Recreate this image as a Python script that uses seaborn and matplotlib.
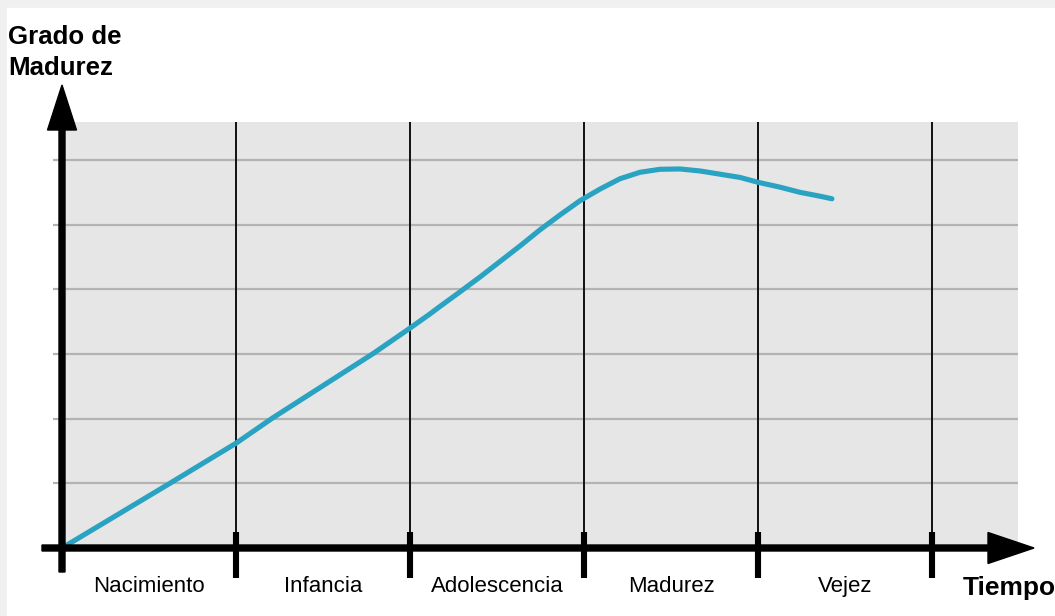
import pandas as pd
import seaborn as sns
import matplotlib.pyplot as plt
from matplotlib.patches import Rectangle, FancyArrow

# life stages along the time axis
stages = ['Nacimiento', 'Infancia', 'Adolescencia', 'Madurez', 'Vejez']

# maturity curve (x in stage units, y in grid units)
tiempo = [0.0, 0.62, 1.0, 1.21, 1.79, 2.0, 2.115, 2.172, 2.287, 2.402, 2.517,
          2.632, 2.747, 2.862, 2.977, 3.092, 3.207, 3.322, 3.437, 3.552,
          3.667, 3.782, 3.897, 4.0, 4.126, 4.241, 4.356, 4.425]
madurez = [0.0, 1.0, 1.62, 2.01, 3.01, 3.40, 3.62, 3.735, 3.96, 4.19, 4.43,
           4.67, 4.92, 5.15, 5.37, 5.55, 5.71, 5.81, 5.856, 5.861,
           5.83, 5.78, 5.73, 5.655, 5.58, 5.50, 5.44, 5.40]

grid_levels = [1, 2, 3, 4, 5, 6]

df = pd.DataFrame({'tiempo': tiempo, 'madurez': madurez})

sns.set_style('white')
plt.rcParams['font.family'] = ['Liberation Sans', 'DejaVu Sans']
plt.rcParams['text.color'] = 'black'

# pixel layout of the original drawing
X0, Y0 = 62, 548          # origin in pixels
SX, SY = 174, 64.67       # pixels per stage / per grid step


def dx(p):
    return (p - X0) / SX


def dy(p):
    return (Y0 - p) / SY


fig = plt.figure(figsize=(10.55, 6.16), dpi=100, facecolor='#f0f0f0')
fig.patches.append(Rectangle((7 / 1055, 0), 1, 1 - 8 / 616,
                             transform=fig.transFigure, color='white', zorder=-5))
ax = fig.add_axes([0, 0, 1, 1])
ax.set_facecolor('none')
ax.set_xlim(dx(0), dx(1055))
ax.set_ylim(dy(616), dy(0))
ax.axis('off')

# grey plotting band and horizontal grid
ax.add_patch(Rectangle((0, 0), dx(1018), dy(122), color='#e6e6e6', zorder=1, lw=0))
ax.hlines(grid_levels, dx(53), dx(1018), color='#b3b3b3', lw=1.6, zorder=2)

# stage dividers
bounds = list(range(1, len(stages) + 1))
ax.vlines(bounds, 0, dy(122), color='#111111', lw=1.4, zorder=3)
ax.vlines(bounds, dy(578), dy(532), color='black', lw=4.4, zorder=6)

sns.lineplot(data=df, x='tiempo', y='madurez', sort=False, color='#2aa3c2',
             lw=3.7, ax=ax, zorder=5, solid_capstyle='round',
             solid_joinstyle='round')
ax.axis('off')

# axes arrows
ax.add_patch(FancyArrow(dx(42), 0, dx(1034) - dx(42), 0, width=6 / SY,
                        head_width=31 / SY, head_length=46 / SX,
                        length_includes_head=True, color='black', zorder=7))
ax.add_patch(FancyArrow(0, dy(572), 0, dy(85) - dy(572), width=6 / SX,
                        head_width=29 / SX, head_length=45 / SY,
                        length_includes_head=True, color='black', zorder=7))

# labels
for i, name in enumerate(stages):
    ax.text(i + 0.5, dy(592), name, ha='center', va='baseline', fontsize=16,
            color='black')

ax.text(dx(8), dy(44), 'Grado de', ha='left', va='baseline', fontsize=18.6,
        fontweight='bold', color='black')
ax.text(dx(8), dy(75), 'Madurez', ha='left', va='baseline', fontsize=18.6,
        fontweight='bold', color='black')
ax.text(dx(963), dy(595), 'Tiempo', ha='left', va='baseline', fontsize=19,
        fontweight='bold', color='black')

fig.savefig('out.png', dpi=100)
